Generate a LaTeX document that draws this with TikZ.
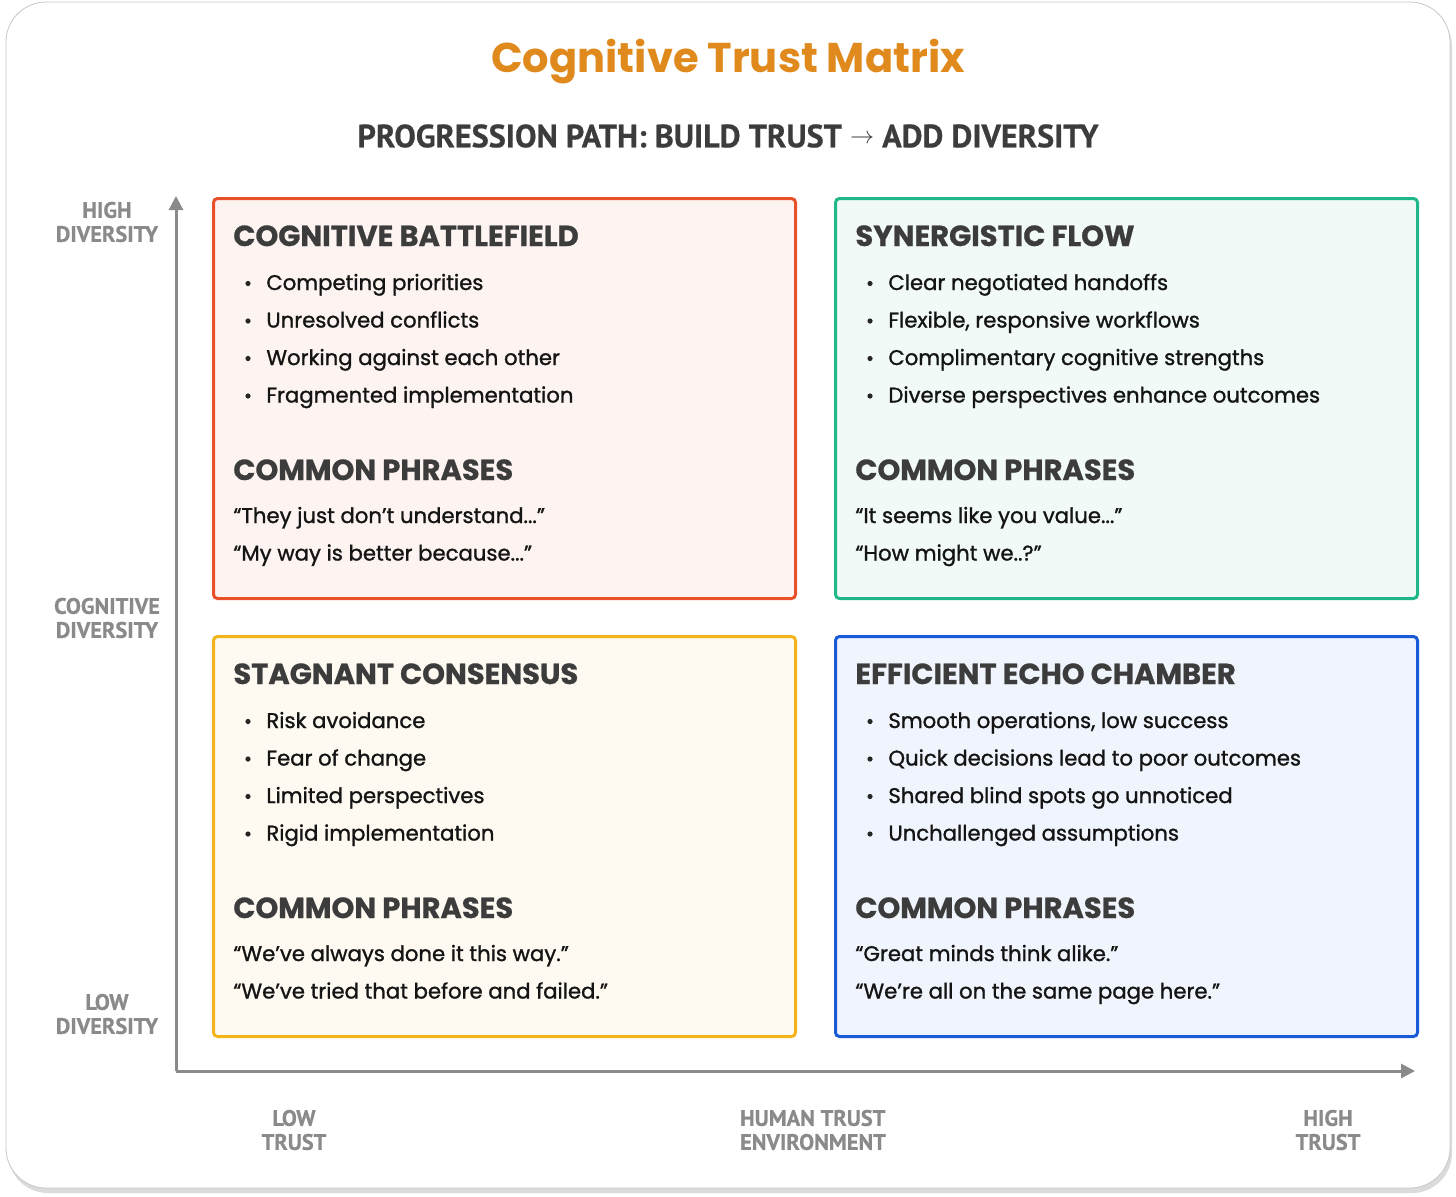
\documentclass[tikz,border=0pt]{standalone}
\usepackage{fontspec}
\setmainfont{Poppins}[UprightFeatures={FakeBold=1.2}]
\newfontfamily\headfont{Poppins}[BoldFeatures={FakeBold=0.8}]
\newfontfamily\titlefont{Poppins}
\newfontfamily\condfont{PT Sans}[BoldFeatures={FakeBold=0.6}]
\usetikzlibrary{arrows.meta,positioning}
\definecolor{titleorange}{HTML}{E08A1E}
\definecolor{inkdark}{HTML}{3C3C3C}
\definecolor{axisgray}{HTML}{8A8A8A}
\definecolor{battlered}{HTML}{E8502A}
\definecolor{flowgreen}{HTML}{20B888}
\definecolor{stagyellow}{HTML}{F2B418}
\definecolor{echoblue}{HTML}{1A5CD8}
\definecolor{battlefill}{HTML}{FDF4F1}
\definecolor{flowfill}{HTML}{F1FAF6}
\definecolor{stagfill}{HTML}{FFFAF1}
\definecolor{echofill}{HTML}{F0F5FD}
\newcommand{\trail}{...}

\tikzset{
  quadbox/.style={draw,line width=1.5pt,rounded corners=2pt,anchor=north west,
    minimum width=291pt,minimum height=200pt,inner sep=0pt},
  headtext/.style={anchor=base west,inner sep=0pt,text=inkdark,
    font=\headfont\bfseries\fontsize{14.5}{16}\selectfont},
  bodytext/.style={anchor=base west,inner sep=0pt,text=black!92,
    font=\fontsize{10.6}{12}\selectfont},
  bulletdot/.style={circle,fill=black!85,inner sep=0pt,minimum size=2.6pt},
  axislabel/.style={align=center,inner sep=0pt,text=axisgray,
    font=\condfont\bfseries\fontsize{11.2}{12}\selectfont},
  axisline/.style={draw=axisgray,line width=1.5pt,-{Triangle[width=7pt,length=7pt]}}
}

% one quadrant: name, top-left corner, colour, fill, title, bullets, phrases
\newcommand{\quadrant}[7]{%
  \node[quadbox,draw=#3,fill=#4] (#1) at (#2) {};
  \node[headtext] (#1-head) at ([shift={(21,49)}]#1.north west) {#5};
  \foreach \b [count=\i] in {#6}{
    \node[bulletdot] (#1-d\i) at ([shift={(36,86.5+37.5*(\i-1))}]#1.north west) {};
    \node[bodytext] (#1-b\i) at ([shift={(54,93+37.5*(\i-1))}]#1.north west) {\b};}
  \node[headtext] (#1-ph) at ([shift={(21,283)}]#1.north west) {COMMON PHRASES};
  \foreach \p [count=\i] in {#7}
    \node[bodytext] (#1-p\i) at ([shift={(21,326+37.5*(\i-1))}]#1.north west) {\p};
}

\begin{document}
\begin{tikzpicture}[x=0.5pt,y=-0.5pt]
  \useasboundingbox (0,0) rectangle (1456,1196);
  % card with a soft shadow
  \fill[black!14,rounded corners=20pt] (8,7) rectangle (1452,1193);
  \draw[black!22,fill=white,rounded corners=20pt] (6,2) rectangle (1450,1188);

  \node[text=titleorange,font=\titlefont\fontsize{20.8}{24}\selectfont\bfseries] (title) at (728,62) {Cognitive Trust Matrix};
  \node[text=inkdark,font=\condfont\bfseries\fontsize{16.1}{18}\selectfont] (path) at (728,136)
       {PROGRESSION PATH: BUILD TRUST \raisebox{1.8pt}{\normalfont\fontsize{12}{12}\selectfont$\rightarrow$} ADD DIVERSITY};

  % axes
  \coordinate (origin) at (176,1071);
  \coordinate (ytip) at (176,196);
  \coordinate (xtip) at (1415,1071);
  \draw[axisline] (origin) -- (ytip);
  \draw[axisline] (origin) -- (xtip);

  \node[axislabel] (highdiv) at (107,222) {HIGH\\DIVERSITY};
  \node[axislabel] (cogdiv) at (107,618) {COGNITIVE\\DIVERSITY};
  \node[axislabel] (lowdiv) at (107,1014) {LOW\\DIVERSITY};
  \node[axislabel] (lowtrust) at (294,1130) {LOW\\TRUST};
  \node[axislabel,align=left] (humantrust) at (813,1130) {HUMAN TRUST\\ENVIRONMENT};
  \node[axislabel] (hightrust) at (1328,1130) {HIGH\\TRUST};

  % the four quadrants
  \quadrant{battle}{212,197}{battlered}{battlefill}{COGNITIVE BATTLEFIELD}
    {Competing priorities,Unresolved conflicts,Working against each other,Fragmented implementation}
    {“They just don’t understand\trail”,“My way is better because\trail”}
  \quadrant{flow}{834,197}{flowgreen}{flowfill}{SYNERGISTIC FLOW}
    {Clear negotiated handoffs,{Flexible, responsive workflows},Complimentary cognitive strengths,Diverse perspectives enhance outcomes}
    {“It seems like you value\trail”,“How might we..?”}
  \quadrant{stagnant}{212,635}{stagyellow}{stagfill}{STAGNANT CONSENSUS}
    {Risk avoidance,Fear of change,Limited perspectives,Rigid implementation}
    {“We’ve always done it this way.”,“We’ve tried that before and failed.”}
  \quadrant{echo}{834,635}{echoblue}{echofill}{EFFICIENT ECHO CHAMBER}
    {{Smooth operations, low success},Quick decisions lead to poor outcomes,Shared blind spots go unnoticed,Unchallenged assumptions}
    {“Great minds think alike.”,“We’re all on the same page here.”}
\end{tikzpicture}
\end{document}
